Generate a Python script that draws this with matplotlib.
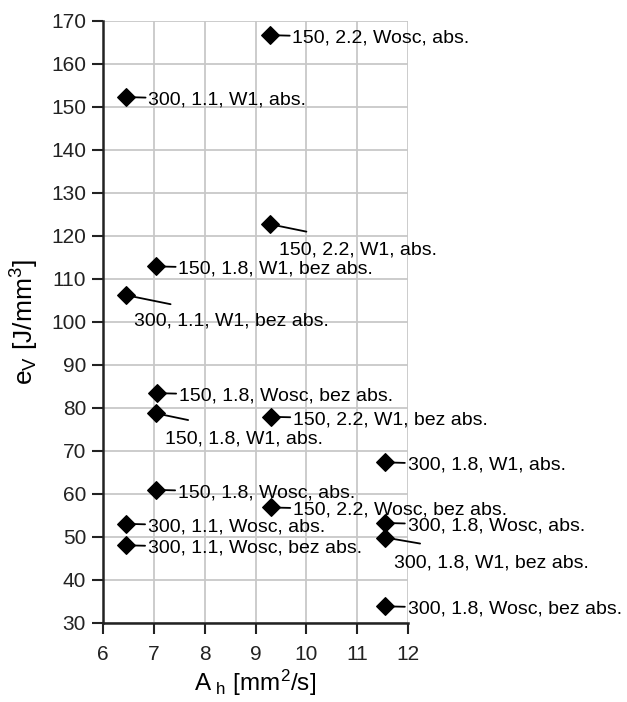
import matplotlib

matplotlib.use("Agg")
import matplotlib.pyplot as plt

plt.rcParams["font.family"] = ["Liberation Sans", "DejaVu Sans"]
plt.rcParams["mathtext.default"] = "regular"

# measured points: A_h [mm2/s] vs e_V [J/mm3]
area_rate = [9.29, 6.46, 9.29, 7.05, 6.46, 7.06, 7.05, 9.30,
             11.55, 7.04, 9.30, 6.45, 11.55, 11.55, 6.45, 11.55]
energy = [166.7, 152.3, 122.7, 112.9, 106.2, 83.4, 78.7, 77.9,
          67.3, 60.9, 56.8, 53.0, 53.2, 49.8, 48.0, 33.8]
labels = [
    "150, 2.2, Wosc, abs.",
    "300, 1.1, W1, abs.",
    "150, 2.2, W1, abs.",
    "150, 1.8, W1, bez abs.",
    "300, 1.1, W1, bez abs.",
    "150, 1.8, Wosc, bez abs.",
    "150, 1.8, W1, abs.",
    "150, 2.2, W1, bez abs.",
    "300, 1.8, W1, abs.",
    "150, 1.8, Wosc, abs.",
    "150, 2.2, Wosc, bez abs.",
    "300, 1.1, Wosc, abs.",
    "300, 1.8, Wosc, abs.",
    "300, 1.8, W1, bez abs.",
    "300, 1.1, Wosc, bez abs.",
    "300, 1.8, Wosc, bez abs.",
]
# labels hanging below the point: index -> leader end offset (points)
dropped = {2: (26, -5.3), 4: (32, -6.5), 6: (23, -4.8), 13: (25, -4.3)}

fig = plt.figure(figsize=(6.27, 7.02), dpi=100)
ax = fig.add_axes([0.1638, 0.1130, 0.4874, 0.8571])

ax.scatter(area_rate, energy, marker="D", s=80, color="black", zorder=4)

line_kw = dict(arrowstyle="-", color="black", lw=1.3, shrinkA=0, shrinkB=0)
for i, (x, y, txt) in enumerate(zip(area_rate, energy, labels)):
    if i in dropped:
        ax.annotate("", xy=(x, y), xytext=dropped[i], textcoords="offset points",
                    arrowprops=line_kw, zorder=3)
        ax.annotate(txt, xy=(x, y), xytext=(6, -18.5), textcoords="offset points",
                    fontsize=14, ha="left", va="center", zorder=5)
    else:
        ax.annotate(txt, xy=(x, y), xytext=(16, -2), textcoords="offset points",
                    fontsize=14, ha="left", va="center", zorder=5,
                    arrowprops=line_kw)

ax.set_xlim(6, 12)
ax.set_ylim(30, 170)
ax.set_xticks(range(6, 13))
ax.set_yticks(range(30, 171, 10))
ax.grid(True, color="#c8c8c8", lw=1.3, zorder=0)
ax.set_axisbelow(True)

for side in ("top", "right"):
    ax.spines[side].set_visible(False)
for side in ("left", "bottom"):
    ax.spines[side].set_linewidth(1.8)
    ax.spines[side].set_color("#222222")

ax.tick_params(axis="both", direction="out", length=8, width=1.5,
               labelsize=15, colors="#222222")
ax.tick_params(axis="x", pad=8)
ax.tick_params(axis="y", pad=4)

ax.set_xlabel("A$_{\\ h}$ [mm$^2$/s]", fontsize=17.5, labelpad=3)
ax.set_ylabel("e$_V$ [J/mm$^3$]", fontsize=19, labelpad=7)

fig.savefig("out.png", dpi=100)
